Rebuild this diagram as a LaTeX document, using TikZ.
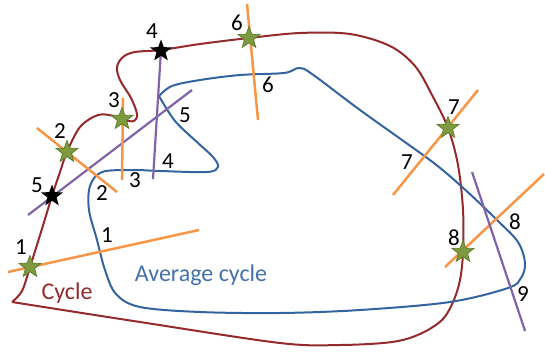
\documentclass[tikz,border=0pt]{standalone}
\usepackage{fontspec}
\setmainfont{Carlito}
\usetikzlibrary{shapes.geometric}
\definecolor{cyclered}{RGB}{148,42,44}
\definecolor{avgblue}{RGB}{52,100,160}
\definecolor{avgtext}{RGB}{68,112,172}
\definecolor{lineorange}{RGB}{247,150,70}
\definecolor{linepurple}{RGB}{128,100,170}
\definecolor{stargreen}{RGB}{125,155,62}
\definecolor{stargreenedge}{RGB}{100,128,48}
\tikzset{
  curveline/.style={line width=2pt},
  oline/.style={lineorange, line width=2.5pt},
  pline/.style={linepurple, line width=2.2pt},
  gstar/.style={star, star points=5, star point ratio=2.4, minimum size=23pt, inner sep=0pt, fill=stargreen, draw=stargreenedge, line width=0.8pt},
  bstar/.style={star, star points=5, star point ratio=2.4, minimum size=23pt, inner sep=0pt, fill=black},
  lbl/.style={font=\fontsize{23}{25}\selectfont, text=black, inner sep=0pt},
  ctext/.style={font=\fontsize{24}{27}\selectfont, inner sep=0pt}
}
\begin{document}
\begin{tikzpicture}[x=1pt,y=-1pt]
\useasboundingbox (0,0) rectangle (545,354);
% Cycle
\draw[curveline, cyclered] plot[smooth, tension=0.55] coordinates {
 (12,302) (22,291) (30,267) (41,232) (52,196) (60,172) (67,152) (80,127) (98,115) (114,116)
 (124,120) (134,121) (137,114) (131,98) (120,80) (117,67) (123,57) (135,52) (161,50)
 (200,44) (249,38) (300,33) (350,34) (390,46) (415,66) (432,95) (448,128) (458,165)
 (463,210) (463,252) (460,280) (453,302) (442,320) (420,334) (392,342) (340,345) (280,343)
 (140,322) (12,302)};
% Average cycle
\draw[curveline, avgblue] plot[smooth, tension=0.55] coordinates {
 (159,96) (175,121) (198,143) (213,157) (218,167) (207,172) (160,171) (133,170) (102,172)
 (90,186) (89,210) (97,240) (105,270) (116,294) (140,307) (200,312) (280,313) (360,310)
 (450,302) (508,288) (521,278) (525,263) (518,242) (498,221) (472,196) (445,172) (423,155)
 (360,110) (312,74) (299,68) (284,73) (240,75) (200,80) (172,86) (159,96)};
% coordinates for the lines
\coordinate (o1a) at (8,272);   \coordinate (o1b) at (199,230);
\coordinate (p5a) at (28,215);  \coordinate (p5b) at (192,90);
\coordinate (o2a) at (37,128);  \coordinate (o2b) at (117,192);
\coordinate (o3a) at (123,98);  \coordinate (o3b) at (122,180);
\coordinate (p4a) at (161,50);  \coordinate (p4b) at (153,179);
\coordinate (o6a) at (247,4);   \coordinate (o6b) at (258,120);
\coordinate (o7a) at (393,195); \coordinate (o7b) at (478,90);
\coordinate (o8a) at (445,267); \coordinate (o8b) at (544,174);
\coordinate (p9a) at (472,172); \coordinate (p9b) at (525,331);
\draw[oline] (o1a) -- (o1b);
\draw[pline] (p5a) -- (p5b);
\draw[oline] (o2a) -- (o2b);
\draw[oline] (o3a) -- (o3b);
\draw[pline] (p4a) -- (p4b);
\draw[oline] (o6a) -- (o6b);
\draw[oline] (o7a) -- (o7b);
\draw[oline] (o8a) -- (o8b);
\draw[pline] (p9a) -- (p9b);
% stars
\node[gstar] (s1) at (30,267) {};
\node[bstar] (s5) at (52,196) {};
\node[gstar] (s2) at (67,152) {};
\node[gstar] (s3) at (122,119) {};
\node[bstar] (s4) at (161,51) {};
\node[gstar] (s6) at (249,38) {};
\node[gstar] (s7) at (448,128) {};
\node[gstar] (s8) at (463,252) {};
% labels
\node[lbl] (l1a) at (21,247) {1};
\node[lbl] (l1b) at (107,235) {1};
\node[lbl] (l5a) at (37,185) {5};
\node[lbl] (l5b) at (185,115) {5};
\node[lbl] (l2a) at (60,131) {2};
\node[lbl] (l2b) at (102,193) {2};
\node[lbl] (l3a) at (114,100) {3};
\node[lbl] (l3b) at (135,180) {3};
\node[lbl] (l4a) at (152,31) {4};
\node[lbl] (l4b) at (168,161) {4};
\node[lbl] (l6a) at (237,23) {6};
\node[lbl] (l6b) at (268,85) {6};
\node[lbl] (l7a) at (454,107) {7};
\node[lbl] (l7b) at (407,162) {7};
\node[lbl] (l8a) at (454,238) {8};
\node[lbl] (l8b) at (515,222) {8};
\node[lbl] (l9) at (523,294) {9};
\node[ctext, text=cyclered] (ct) at (67,293) {Cycle};
\node[ctext, text=avgtext] (at) at (201,275) {Average cycle};
\end{tikzpicture}
\end{document}
